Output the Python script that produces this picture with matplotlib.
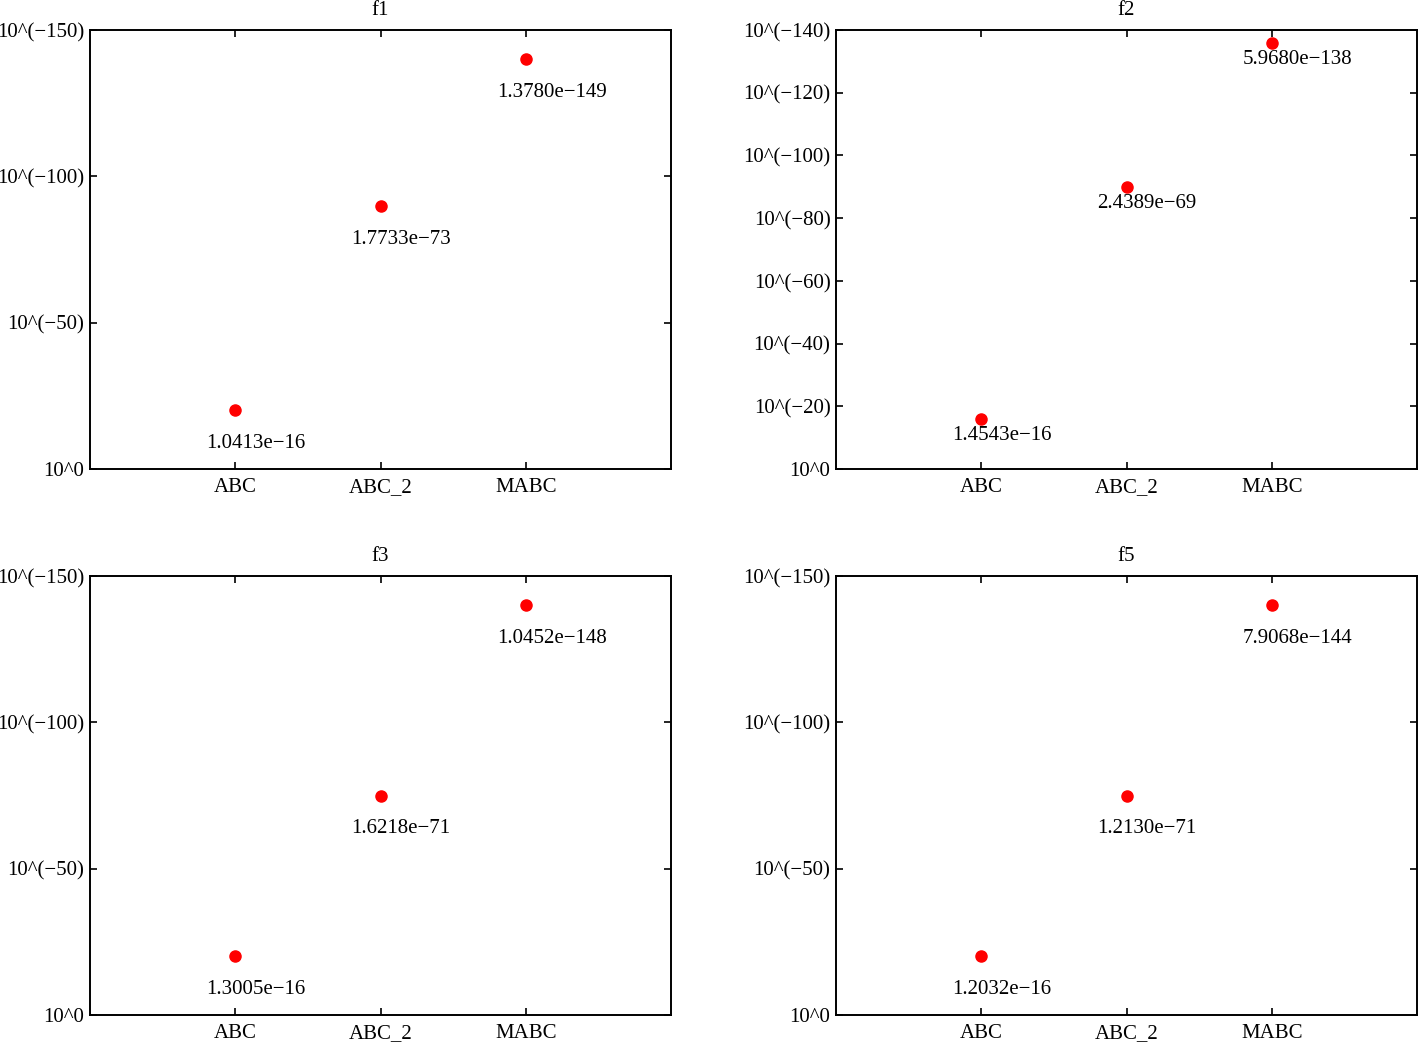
import matplotlib
matplotlib.use("Agg")
import matplotlib.pyplot as plt
import numpy as np

plt.rcParams['font.family'] = ['Liberation Serif', 'DejaVu Serif']

methods = ['ABC', 'ABC_2', 'MABC']
x_pos = [1, 2, 3]
titles = ['f1', 'f2', 'f3', 'f5']

# plotted height (as -log10 scale) and the text shown next to each point
f1_y = [20, 90, 140]
f1_text = ['1.0413e\u221216', '1.7733e\u221273', '1.3780e\u2212149']
f2_y = [16, 90, 136]
f2_text = ['1.4543e\u221216', '2.4389e\u221269', '5.9680e\u2212138']
f3_y = [20, 75, 140]
f3_text = ['1.3005e\u221216', '1.6218e\u221271', '1.0452e\u2212148']
f5_y = [20, 75, 140]
f5_text = ['1.2032e\u221216', '1.2130e\u221271', '7.9068e\u2212144']

f1_ticks = [0, 50, 100, 150]
f2_ticks = [0, 20, 40, 60, 80, 100, 120, 140]

all_y = [f1_y, f2_y, f3_y, f5_y]
all_text = [f1_text, f2_text, f3_text, f5_text]
all_ticks = [f1_ticks, f2_ticks, f1_ticks, f1_ticks]
text_drop = [10, 4, 10, 10]

def tick_name(v):
    if v == 0:
        return '10^0'
    return '10^(\u2212%d)' % v

fig = plt.figure(figsize=(14.18, 10.42), dpi=100)
boxes = [[0.0635, 0.5499, 0.4097, 0.4213], [0.5896, 0.5499, 0.4097, 0.4213],
         [0.0635, 0.0259, 0.4097, 0.4213], [0.5896, 0.0259, 0.4097, 0.4213]]

fs = 15
for k in range(4):
    ax = fig.add_axes(boxes[k])
    ax.plot(x_pos, all_y[k], 'o', color='red', markersize=8, linestyle='none')
    for i in range(3):
        ax.annotate(all_text[k][i], (x_pos[i] - 0.2, all_y[k][i] - text_drop[k]),
                    xytext=(0, -3), textcoords='offset points',
                    ha='left', va='center', fontsize=fs)
    ax.set_xlim(0, 4)
    ax.set_ylim(0, all_ticks[k][-1])
    ax.set_xticks(x_pos)
    ax.set_xticklabels([])
    # x labels drawn on a common baseline (underscore in ABC_2 shifts normal tick labels)
    for i in range(3):
        ax.annotate(methods[i], (x_pos[i], 0), xycoords=('data', 'axes fraction'),
                    xytext=(0, -16.8), textcoords='offset points',
                    ha='center', va='baseline', fontsize=fs, annotation_clip=False)
    ax.set_yticks(all_ticks[k])
    ax.set_yticklabels([tick_name(v) for v in all_ticks[k]], fontsize=fs)
    ax.tick_params(direction='in', length=5, width=1.2, top=True, right=True, pad=4)
    for s in ax.spines.values():
        s.set_linewidth(1.4)
    ax.set_title(titles[k], fontsize=fs, pad=11)

fig.savefig('out.png', dpi=100)
